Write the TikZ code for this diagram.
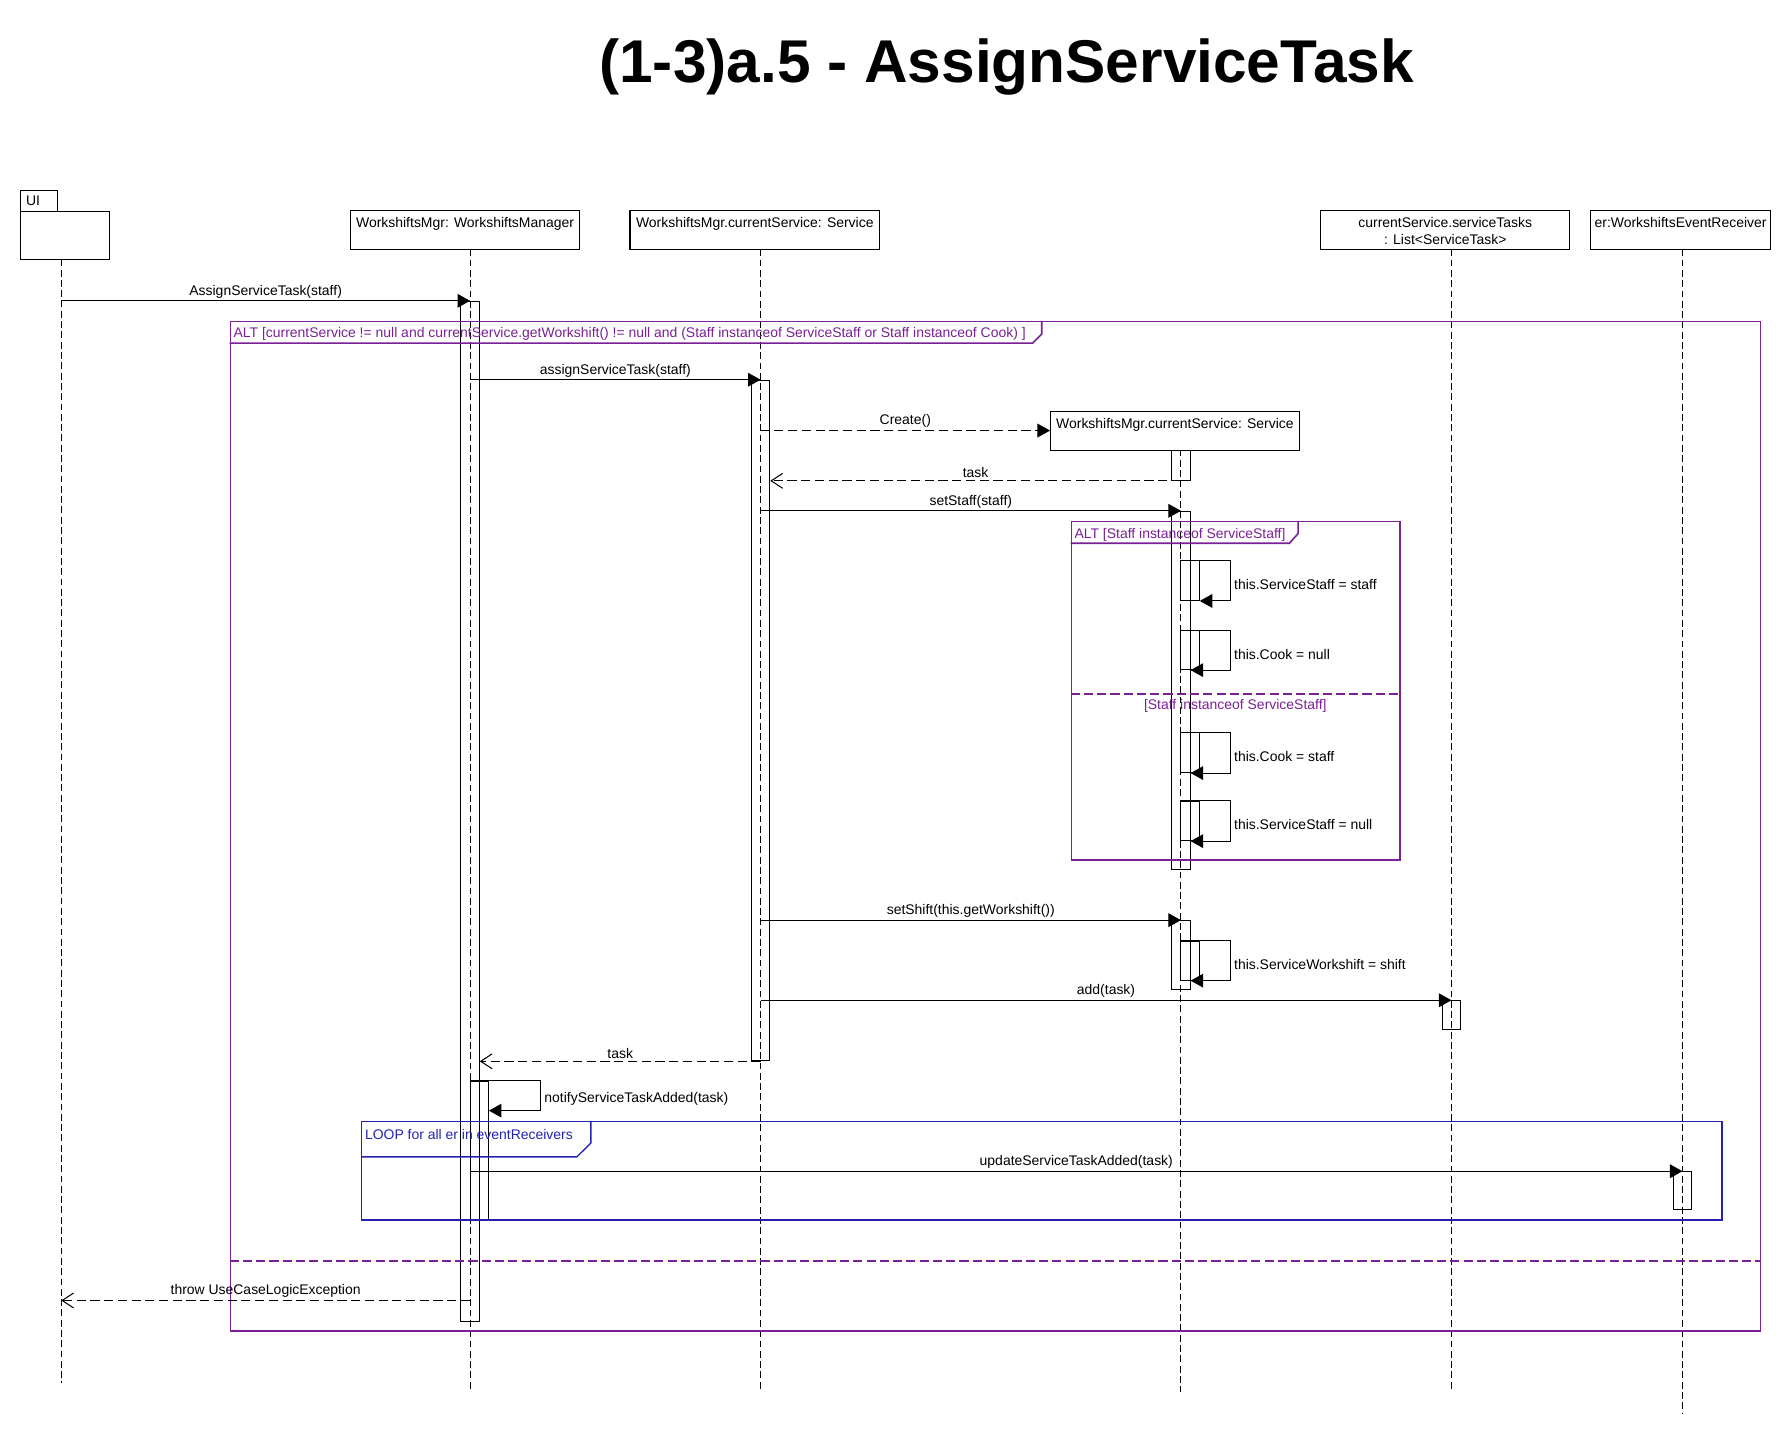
\documentclass[tikz,border=0pt]{standalone}
\usepackage{fontspec}
\setmainfont{Liberation Sans}
\usetikzlibrary{arrows.meta}

\definecolor{altpurple}{RGB}{122,32,150}
\definecolor{loopblue}{RGB}{35,35,175}
\newcommand{\diagfont}{\fontsize{6.1}{7.2}\selectfont}

\begin{document}
\begin{tikzpicture}
        [x=0.5pt,y=-0.5pt,line width=0.45pt,font=\diagfont,
         lifebox/.style={draw,inner sep=0,anchor=north,minimum height=17.2pt},
         boxtext/.style={anchor=north,inner sep=3.2pt,align=center},
         life/.style={dash pattern=on 3pt off 1.5pt},
         bar/.style={draw,inner sep=0,minimum width=8pt,anchor=north},
         call/.style={-{Triangle[length=5.5pt,width=6pt]}},
         create/.style={call,dash pattern=on 4pt off 2pt},
         reply/.style={-{Straight Barb[length=5pt,width=6.5pt]},dash pattern=on 4pt off 2pt},
         msglabel/.style={above,inner sep=1pt},
         selflabel/.style={pos=0.3,right,inner sep=1.5pt},
         altframe/.style={draw=altpurple,line width=0.7pt,inner sep=0,anchor=north west},
         alttext/.style={text=altpurple,anchor=west,inner sep=1.5pt},
         altsep/.style={draw=altpurple,line width=0.9pt,dash pattern=on 4pt off 1.8pt},
         loopframe/.style={draw=loopblue,line width=0.6pt,inner sep=0,anchor=north west},
         looptext/.style={text=loopblue,anchor=west,inner sep=1.5pt}]

        \useasboundingbox (0,0) rectangle (1565,1268);

        \node[font=\bfseries\fontsize{26.4}{30}\selectfont,anchor=base,inner sep=0] (title) at (880,72) {(1-3)a.5 - AssignServiceTask};

        % lifeline heads
        \node[lifebox,anchor=north west,minimum width=16.05pt,minimum height=9.25pt] (uitab) at (17.4,166) {};
        \node[anchor=west,inner sep=2.5pt] at (uitab.west) {UI};
        \node[lifebox,anchor=north west,minimum width=39pt,minimum height=21.15pt] (ui) at (17.4,184.5) {};
        \node[lifebox,minimum width=100.4pt] (wm) at (406.6,183.6) {};
        \node[boxtext] at (wm.north) {WorkshiftsMgr: WorkshiftsManager};
        \node[lifebox,minimum width=109.1pt] (svc) at (659.9,183.6) {};
        \node[boxtext] at (svc.north) {WorkshiftsMgr.currentService: Service};
        \node[lifebox,minimum width=108.9pt] (tasks) at (1263.6,183.6) {};
        \node[boxtext] at (tasks.north) {currentService.serviceTasks\\: List<ServiceTask>};
        \node[lifebox,minimum width=78.7pt] (er) at (1469.3,183.6) {};
        \node[boxtext] at (er.north) {er:WorkshiftsEventReceiver};
        \node[lifebox,minimum width=108.75pt,minimum height=17pt] (newsvc) at (1027.25,359) {};
        \node[boxtext] at (newsvc.north) {WorkshiftsMgr.currentService: Service};

        % lifelines
        \coordinate (uiT) at (53.5,226.8);
        \coordinate (uiB) at (53.5,1209);
        \coordinate (wmT) at (411,218);
        \coordinate (wmB) at (411,1217);
        \coordinate (svcT) at (665,218);
        \coordinate (svcB) at (665,1217);
        \coordinate (newT) at (1032.5,393);
        \coordinate (newB) at (1032.5,1217);
        \coordinate (tasksT) at (1269,218);
        \coordinate (tasksB) at (1269,1217);
        \coordinate (erT) at (1471,218);
        \coordinate (erB) at (1471,1236);

        \draw[life] (uiT) -- (uiB);
        \draw[life] (wmT) -- (wmB);
        \draw[life] (svcT) -- (svcB);
        \draw[life] (newT) -- (newB);
        \draw[life] (tasksT) -- (tasksB);
        \draw[life] (erT) -- (erB);

        % activations
        \node[bar,minimum height=446pt] (wmbar) at (411,263) {};
        \node[bar,minimum height=60.5pt] (wmsub) at (419,945) {};
        \node[bar,minimum height=297.5pt] (svcbar) at (665,332) {};
        \node[bar,minimum height=13.25pt] (newbar1) at (1032.5,393) {};
        \node[bar,minimum height=156.7pt] (newbar2) at (1032.5,446.6) {};
        \node[bar,minimum height=17.25pt] (sub1) at (1040.5,490) {};
        \node[bar,minimum height=17pt] (sub2) at (1040.5,551) {};
        \node[bar,minimum height=17.5pt] (sub3) at (1040.5,640) {};
        \node[bar,minimum height=17.25pt] (sub4) at (1040.5,700) {};
        \node[bar,minimum height=30.25pt] (newbar3) at (1032.5,804.5) {};
        \node[bar,minimum height=17pt] (sub5) at (1040.5,822.5) {};
        \node[bar,minimum height=12.75pt] (tasksbar) at (1269,874.5) {};
        \node[bar,minimum height=16.5pt] (erbar) at (1471,1024) {};

        % frames
        \node[altframe,minimum width=668.9pt,minimum height=441.25pt] (alt1) at (200.8,280.5) {};
        \draw[draw=altpurple,line width=0.7pt] ([yshift=-9.75pt]alt1.north west) -- ++(702,0) -- ++(8,-8) -- ++(0,-11.5);
        \node[alttext] at ([yshift=-5.6pt]alt1.north west) {ALT [currentService != null and currentService.getWorkshift() != null and (Staff instanceof ServiceStaff or Staff instanceof Cook) ]};
        \draw[altsep] ([yshift=-411pt]alt1.north west) -- ([yshift=-411pt]alt1.north east);

        \node[altframe,minimum width=143.75pt,minimum height=147.85pt] (alt2) at (936,455.3) {};
        \draw[draw=altpurple,line width=0.7pt] ([yshift=-9.85pt]alt2.north west) -- ++(191.3,0) -- ++(7.7,-8.6) -- ++(0,-11.1);
        \node[alttext] at ([yshift=-6pt]alt2.north west) {ALT [Staff instanceof ServiceStaff]};
        \draw[altsep] ([yshift=-75.85pt]alt2.north west) -- ([yshift=-75.85pt]alt2.north east);
        \node[text=altpurple,inner sep=0] at (1080,617) {[Staff instanceof ServiceStaff]};

        \node[loopframe,minimum width=594.65pt,minimum height=43pt] (loop1) at (315.7,980) {};
        \draw[draw=loopblue,line width=0.6pt] ([yshift=-15.75pt]loop1.north west) -- ++(188.6,0) -- ++(12.3,-12.2) -- ++(0,-19.3);
        \node[looptext] at ([yshift=-6pt]loop1.north west) {LOOP for all er in eventReceivers};

        % messages
        \draw[call] (uiT |- wmbar.north) -- (wmbar.north) node[msglabel,midway] {AssignServiceTask(staff)};
        \draw[call] (wmT |- svcbar.north) -- (svcbar.north) node[msglabel,midway] {assignServiceTask(staff)};
        \draw[create] (svcT |- newsvc.west) -- (newsvc.west) node[msglabel,midway] {Create()};
        \draw[reply] (newbar1.south) -- (svcbar.east |- newbar1.south) node[msglabel,midway] {task};
        \draw[call] (svcT |- newbar2.north) -- (newbar2.north) node[msglabel,midway] {setStaff(staff)};

        \draw[call] (sub1.north west) -- ++(43.5,0) |- (sub1.south east) node[selflabel] {this.ServiceStaff = staff};
        \draw[call] (sub2.north west) -- ++(43.5,0) |- (newbar2.east |- sub2.south) node[selflabel] {this.Cook = null};
        \draw[call] (sub3.north west) -- ++(43.5,0) |- (newbar2.east |- sub3.south) node[selflabel] {this.Cook = staff};
        \draw[call] (sub4.north west) -- ++(43.5,0) |- (newbar2.east |- sub4.south) node[selflabel] {this.ServiceStaff = null};

        \draw[call] (svcT |- newbar3.north) -- (newbar3.north) node[msglabel,midway] {setShift(this.getWorkshift())};
        \draw[call] (sub5.north west) -- ++(43.5,0) |- (newbar3.east |- sub5.south) node[selflabel] {this.ServiceWorkshift = shift};
        \draw[call] (svcT |- tasksbar.north) -- (tasksbar.north) node[msglabel,midway] {add(task)};
        \draw[reply] (svcbar.south) -- (wmbar.east |- svcbar.south) node[msglabel,midway] {task};

        \draw[call] (wmsub.north west) -- ++(62,0) |- ([yshift=-13pt]wmsub.north east) node[selflabel] {notifyServiceTaskAdded(task)};
        \draw[call] (wmT |- erbar.north) -- (erbar.north) node[msglabel,midway] {updateServiceTaskAdded(task)};

        \coordinate (excp) at (411,1137);
        \draw[reply] (excp) -- (uiT |- excp) node[msglabel,midway] {throw UseCaseLogicException};
      \end{tikzpicture}
\end{document}
